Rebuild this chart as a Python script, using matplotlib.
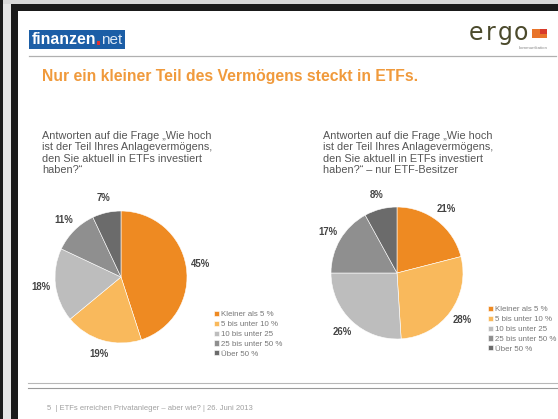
import matplotlib
matplotlib.use("Agg")
import matplotlib.pyplot as plt
from matplotlib.patches import Rectangle

plt.rcParams['font.family'] = ['Liberation Sans', 'DejaVu Sans']

# data
categories = ["Kleiner als 5 %", "5 bis unter 10 %", "10 bis unter 25",
              "25 bis unter 50 %", "Über 50 %"]
alle = [45, 19, 18, 11, 7]
etf_besitzer = [21, 28, 26, 17, 8]
colors = ["#ee8a22", "#f9b95c", "#bdbdbd", "#8f8f8f", "#6b6b6b"]

title = "Nur ein kleiner Teil des Vermögens steckt in ETFs."
frage_links = "Antworten auf die Frage „Wie hoch\nist der Teil Ihres Anlagevermögens,\nden Sie aktuell in ETFs investiert\nhaben?“"
frage_rechts = "Antworten auf die Frage „Wie hoch\nist der Teil Ihres Anlagevermögens,\nden Sie aktuell in ETFs investiert\nhaben?“ – nur ETF-Besitzer"
footer = "5  | ETFs erreichen Privatanleger – aber wie? | 26. Juni 2013"

W, H = 558, 419
fig = plt.figure(figsize=(W / 100, H / 100), dpi=100, facecolor="white")

# background axes in pixel coordinates
bg = fig.add_axes([0, 0, 1, 1])
bg.set_xlim(0, W)
bg.set_ylim(H, 0)
bg.axis("off")

# frame of the screenshot
bg.add_patch(Rectangle((0, 0), W, 4, color="#d8d8d8", lw=0))
bg.add_patch(Rectangle((0, 0), 3, H, color="#1a1a1a", lw=0))
bg.add_patch(Rectangle((3, 4), 8, H, color="#e4e4e4", lw=0))
bg.add_patch(Rectangle((11, 4), W - 11, 7, color="#1a1a1a", lw=0))
bg.add_patch(Rectangle((11, 4), 7, H, color="#1a1a1a", lw=0))

# finanzen.net logo
bg.add_patch(Rectangle((29, 30), 96, 19, color="#1c5ea6", lw=0))
bg.text(32, 40, "finanzen", color="white", fontsize=11.4, fontweight="bold",
        va="center", ha="left")
bg.add_patch(Rectangle((97, 41.5), 3.2, 3.2, color="#e03030", lw=0))
bg.text(101, 40.5, "net", color="#dde8f5", fontsize=11, va="center", ha="left")

# ergo logo
for i, ch in enumerate("ergo"):
    bg.text(475.5 + i * 15, 33, ch, color="#4b4a2c", fontsize=17,
            family="DejaVu Sans", va="center", ha="center")
bg.add_patch(Rectangle((532, 29), 15, 9, color="#e8742a", lw=0))
bg.add_patch(Rectangle((540, 29), 7, 5, color="#d83a2a", lw=0))
bg.text(548, 48, "kommunikation", color="#8a8a8a", fontsize=3.2,
        va="center", ha="right")

# header line
bg.plot([29, 556], [56.5, 56.5], color="#b0b0b0", lw=0.9)

# title
bg.text(42, 77, title, color="#f09a3c", fontsize=11.3, fontweight="bold",
        va="center", ha="left")

# questions
bg.text(42, 131, frage_links, color="#555555", fontsize=7.8,
        va="top", ha="left", linespacing=1.17)
bg.text(323, 131, frage_rechts, color="#555555", fontsize=7.8,
        va="top", ha="left", linespacing=1.17)

# bottom lines and footer
bg.plot([28, W], [383, 383], color="#b8b8b8", lw=0.8)
bg.plot([28, W], [387.5, 387.5], color="#9a9a9a", lw=0.8)
bg.text(47, 408, footer, color="#a0a0a0", fontsize=5.5, va="center", ha="left")


def pie_axes(cx, cy, r):
    ax = fig.add_axes([(cx - r) / W, 1 - (cy + r) / H, 2 * r / W, 2 * r / H])
    return ax


def draw_pie(ax, values):
    wedges, _, autotexts = ax.pie(
        values, colors=colors, startangle=90, counterclock=False,
        autopct=lambda p: f"{p:.0f}%", pctdistance=1.22, radius=1,
        wedgeprops=dict(edgecolor="white", linewidth=0.4),
        textprops=dict(fontsize=6.9, fontweight="bold", color="#444444"))
    ax.set_xlim(-1, 1)
    ax.set_ylim(-1, 1)
    ax.set_aspect("equal")
    return wedges


ax1 = pie_axes(121, 277, 66)
w1 = draw_pie(ax1, alle)
ax2 = pie_axes(397, 273, 66)
w2 = draw_pie(ax2, etf_besitzer)

for wedges, (lx, ly) in [(w1, (214, 311)), (w2, (488, 306))]:
    fig.legend(wedges, categories, loc="upper left",
               bbox_to_anchor=(lx / W, 1 - ly / H), frameon=False,
               fontsize=5.7, handlelength=0.65, handleheight=0.65,
               handletextpad=0.25, labelspacing=0.3, borderpad=0,
               borderaxespad=0, labelcolor="#777777")

fig.savefig("out.png", dpi=100, facecolor="white")
